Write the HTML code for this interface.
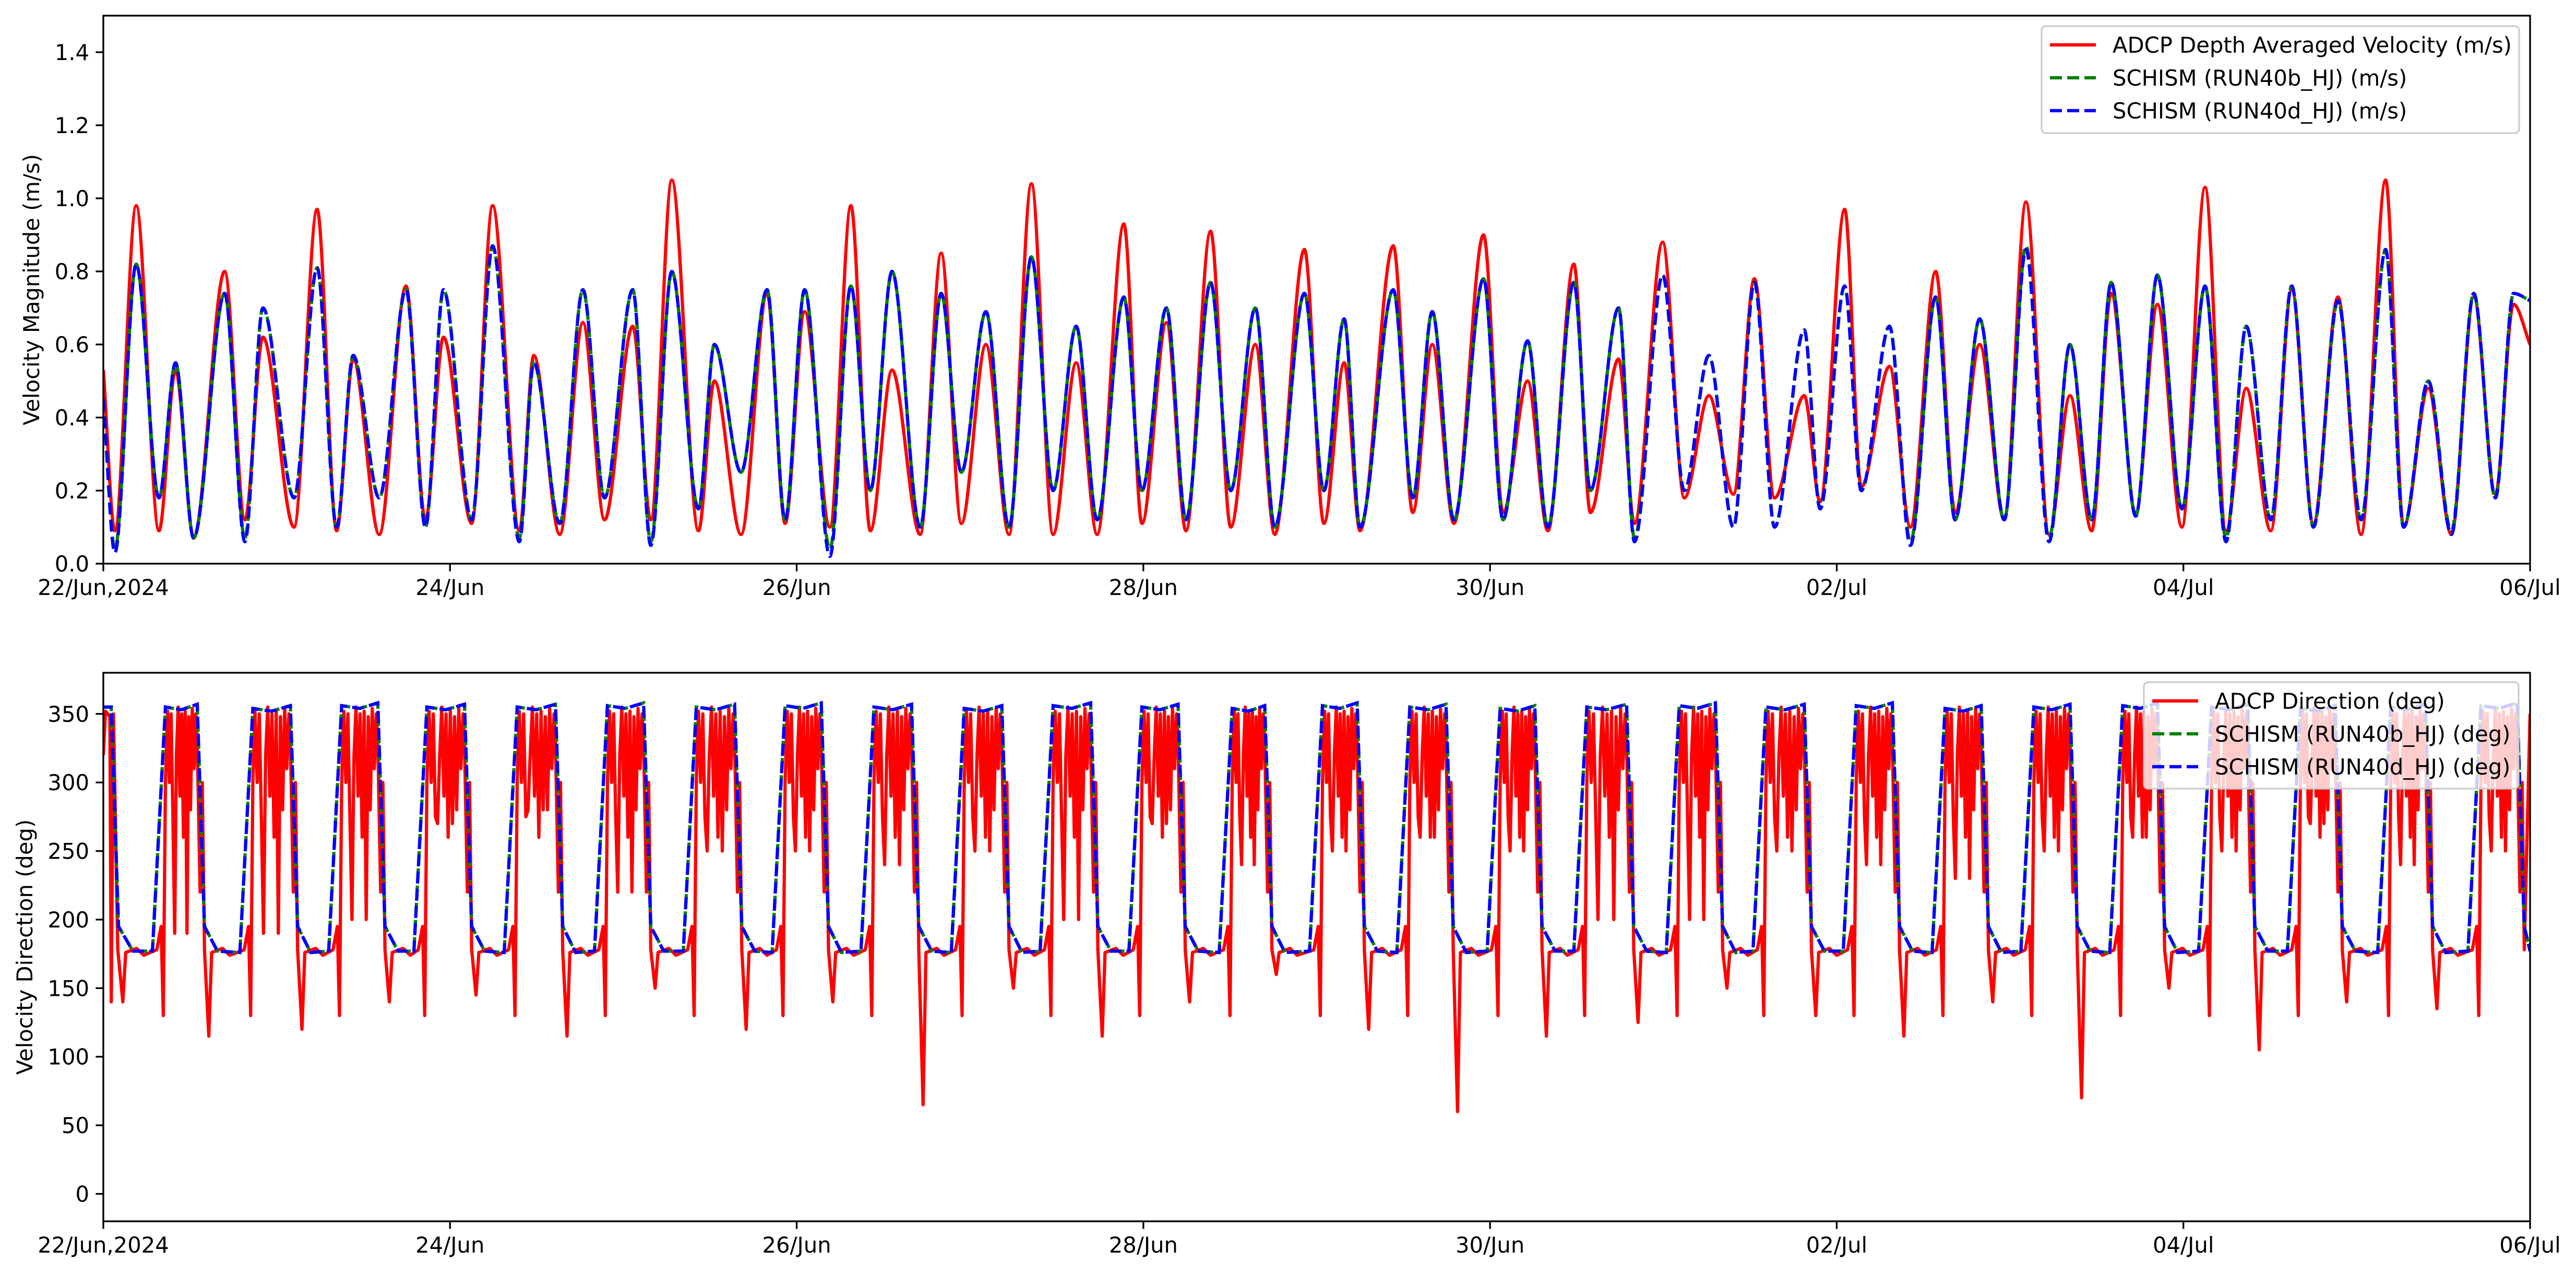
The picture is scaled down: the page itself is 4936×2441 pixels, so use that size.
<!DOCTYPE html>
<html><head><meta charset="utf-8">
<style>
html,body{margin:0;padding:0;background:#fff;}
svg{display:block;font-family:"DejaVu Sans","Liberation Sans",sans-serif;}
</style></head>
<body>
<svg id="fig" width="4936" height="2441" viewBox="0 0 4936 2441" xmlns="http://www.w3.org/2000/svg">
<rect width="4936" height="2441" fill="#fff"/>
<g id="topChart"></g>
<g id="botChart"></g>
</svg>
<script>
// ---------- DATA ----------
const xTickLabels = ["22/Jun,2024","24/Jun","26/Jun","28/Jun","30/Jun","02/Jul","04/Jul","06/Jul"];
const xTickHours = [0,48,96,144,192,240,288,336];
const magTicks = [0.0,0.2,0.4,0.6,0.8,1.0,1.2,1.4];
const dirTicks = [0,50,100,150,200,250,300,350];
const magTimes = [0,1.6,4.55,7.7,10.0,12.5,16.8,19.6,22.1,26.4,29.6,32.3,34.6,38.2,41.9,44.6,47.1,51.0,53.9,57.6,59.6,63.2,66.4,69.4,73.3,75.8,78.7,82.4,84.6,88.3,91.9,94.4,97.1,100.6,103.5,106.2,109.2,113.1,116.0,118.8,122.2,125.4,128.5,131.5,134.7,137.6,141.3,143.8,147.2,149.9,153.3,156.1,159.5,162.2,166.3,169.0,171.8,174.0,178.6,181.3,184.0,187.0,191.1,193.8,197.2,200.0,203.6,205.9,209.8,212.0,215.9,218.9,222.3,225.7,228.6,231.4,235.5,237.7,241.1,243.4,247.3,250.2,253.7,256.4,259.8,263.2,266.2,269.4,272.3,275.3,278.0,281.4,284.4,287.8,291.0,293.9,296.7,300.1,303.0,306.0,309.4,312.6,316.0,318.5,321.9,325.1,328.2,331.2,333.7,336];
const adcpMag = [0.53,0.09,0.98,0.09,0.53,0.07,0.80,0.12,0.62,0.10,0.97,0.09,0.56,0.08,0.76,0.12,0.62,0.11,0.98,0.09,0.57,0.08,0.66,0.12,0.65,0.12,1.05,0.09,0.50,0.08,0.74,0.11,0.69,0.10,0.98,0.09,0.53,0.08,0.85,0.11,0.60,0.08,1.04,0.08,0.55,0.08,0.93,0.11,0.66,0.09,0.91,0.10,0.60,0.08,0.86,0.11,0.55,0.09,0.87,0.14,0.60,0.11,0.90,0.14,0.50,0.09,0.82,0.14,0.56,0.11,0.88,0.18,0.46,0.19,0.78,0.18,0.46,0.17,0.97,0.21,0.54,0.10,0.80,0.14,0.60,0.12,0.99,0.08,0.46,0.09,0.74,0.14,0.71,0.10,1.03,0.09,0.48,0.09,0.75,0.11,0.73,0.08,1.05,0.10,0.48,0.08,0.73,0.19,0.71,0.60];
const run40bMag = [0.45,0.04,0.82,0.18,0.55,0.07,0.74,0.07,0.70,0.18,0.81,0.10,0.57,0.18,0.75,0.10,0.75,0.12,0.87,0.07,0.55,0.11,0.75,0.18,0.75,0.06,0.80,0.15,0.60,0.25,0.75,0.12,0.75,0.04,0.76,0.20,0.80,0.10,0.74,0.25,0.69,0.10,0.84,0.20,0.65,0.12,0.73,0.20,0.70,0.12,0.77,0.20,0.70,0.10,0.74,0.20,0.67,0.10,0.75,0.18,0.69,0.12,0.78,0.12,0.61,0.10,0.77,0.20,0.70,0.07,0.79,0.20,0.57,0.10,0.77,0.10,0.64,0.15,0.76,0.20,0.65,0.06,0.73,0.12,0.67,0.12,0.87,0.07,0.60,0.12,0.77,0.13,0.79,0.15,0.76,0.07,0.65,0.12,0.76,0.10,0.72,0.12,0.86,0.10,0.50,0.09,0.74,0.18,0.74,0.72];
const run40dMag = [0.45,0.03,0.82,0.18,0.55,0.07,0.74,0.06,0.70,0.18,0.81,0.10,0.57,0.18,0.75,0.10,0.75,0.12,0.87,0.06,0.55,0.11,0.75,0.18,0.75,0.05,0.80,0.15,0.60,0.25,0.75,0.12,0.75,0.02,0.76,0.20,0.80,0.10,0.74,0.25,0.69,0.10,0.84,0.20,0.65,0.12,0.73,0.20,0.70,0.12,0.77,0.20,0.70,0.10,0.74,0.20,0.67,0.10,0.75,0.18,0.69,0.12,0.78,0.12,0.61,0.10,0.77,0.20,0.70,0.06,0.79,0.20,0.57,0.10,0.77,0.10,0.64,0.15,0.76,0.20,0.65,0.05,0.73,0.12,0.67,0.12,0.86,0.06,0.60,0.12,0.77,0.13,0.79,0.15,0.76,0.06,0.65,0.12,0.76,0.10,0.72,0.12,0.86,0.10,0.50,0.08,0.74,0.18,0.74,0.72];
const riseHours = [8.6,20.7,33.0,44.8,57.3,69.8,82.1,94.4,106.7,119.2,131.5,143.8,156.3,168.8,180.9,193.4,205.4,218.2,230.2,242.7,255.0,267.3,279.6,291.9,304.2,316.7,329.2];
const fallHours = [1.1,13.0,25.9,38.0,50.0,62.6,74.8,87.4,99.4,111.9,124.4,136.7,148.8,160.8,173.6,185.9,198.2,210.9,223.2,235.5,247.7,260.0,272.3,284.4,296.9,309.0,321.5,334.2];
const modelHighDeg = [355,355,354,356,355,355,356,355,356,355,354,356,355,354,356,355,354,355,356,355,356,354,355,356,355,354,355,356];
const modelLowDeg = [177,177,176,177,177,176,177,177,176,177,176,177,177,176,177,176,177,177,176,177,177,176,177,176,177,177,176,177];
const adcpHighDip = [190,190,200,270,280,220,250,250,240,250,200,270,240,250,260,250,200,200,250,240,230,250,260,250,270,240,250,250];
const adcpLowSpike = [140,115,120,140,145,115,150,120,140,65,150,115,140,160,120,60,115,125,150,130,115,140,70,150,105,140,135,165];
const adcpPlateau = [352,300,350,275,345,320,355,290,350,260,352,330,348,280,354,310,350];

// ---------- AXES ----------
const L=198,R=4848;
const T1=30,B1=1080,T2=1289,B2=2340;
const X=h=>L+h/336*(R-L);
const Ym=v=>B1-(v/1.5)*(B1-T1);
const Yd=v=>B2-((v+20)/400)*(B2-T2);
const NS="http://www.w3.org/2000/svg";
function mk(tag,attrs,parent,txt){const e=document.createElementNS(NS,tag);for(const k in attrs)e.setAttribute(k,attrs[k]);if(txt!==undefined)e.textContent=txt;parent.appendChild(e);return e;}
const gTop=document.getElementById('topChart'), gBot=document.getElementById('botChart');

function smoothPath(pts){
  const n=pts.length; const dx=[],dy=[],m=[];
  for(let i=0;i<n-1;i++){dx.push(pts[i+1][0]-pts[i][0]);dy.push(pts[i+1][1]-pts[i][1]);m.push(dy[i]/dx[i]);}
  const t=[m[0]];for(let i=1;i<n-1;i++){t.push(m[i-1]*m[i]<=0?0:(m[i-1]+m[i])/2);}t.push(m[n-2]);
  let d=`M${pts[0][0].toFixed(1)},${pts[0][1].toFixed(1)}`;
  for(let i=0;i<n-1;i++){const h=dx[i]/3;d+=`C${(pts[i][0]+h).toFixed(1)},${(pts[i][1]+t[i]*h).toFixed(1)} ${(pts[i+1][0]-h).toFixed(1)},${(pts[i+1][1]-t[i+1]*h).toFixed(1)} ${pts[i+1][0].toFixed(1)},${pts[i+1][1].toFixed(1)}`;}
  return d;
}
function clip(id,T,B){const c=mk('clipPath',{id:id},document.getElementById('fig'));mk('rect',{x:L,y:T,width:R-L,height:B-T},c);}
clip('c1',T1,B1);clip('c2',T2,B2);

function axes(g,T,B,yt,Y,ylab,labx,namePre){
  yt.forEach(v=>{const y=Y(v);
    const tk=mk('line',{x1:L-14.6,x2:L,y1:y,y2:y,stroke:'#000','stroke-width':3.3},g);
    
    
    const lb=mk('text',{x:L-27,y:y+15,'text-anchor':'end','font-size':41.7},g,(namePre==='mag'?v.toFixed(1):String(v)));
    
    
  });
  xTickHours.forEach((h,i)=>{const x=X(h);
    const tk=mk('line',{x1:x,x2:x,y1:B,y2:B+14.6,stroke:'#000','stroke-width':3.3},g);
    
    
    const lb=mk('text',{x:x,y:B+60,'text-anchor':'middle','font-size':41.7},g,xTickLabels[i]);
    
    
  });
  const yl=mk('text',{x:0,y:0,'text-anchor':'middle','font-size':41.7,transform:`translate(${labx},${(T+B)/2}) rotate(-90)`},g,ylab);
  
  
}
function frame(g,T,B,namePre){const f=mk('rect',{x:L,y:T,width:R-L,height:B-T,fill:'none',stroke:'#000','stroke-width':3.3},g);
  
  }

// ---------- TOP ----------
axes(gTop,T1,B1,magTicks,Ym,'Velocity Magnitude (m/s)',75,'mag');
const pr=magTimes.map((h,i)=>[X(h),Ym(adcpMag[i])]);
const pg=magTimes.map((h,i)=>[X(h),Ym(run40bMag[i])]);
const pb=magTimes.map((h,i)=>[X(h),Ym(run40dMag[i])]);
const l1=mk('path',{d:smoothPath(pr),fill:'none',stroke:'#ff0000','stroke-width':6.25,'stroke-linejoin':'round','clip-path':'url(#c1)'},gTop);


const l2=mk('path',{d:smoothPath(pg),fill:'none',stroke:'#008000','stroke-width':6.25,'stroke-dasharray':'23 10','clip-path':'url(#c1)'},gTop);


const l3=mk('path',{d:smoothPath(pb),fill:'none',stroke:'#0000ff','stroke-width':6.25,'stroke-dasharray':'23 10','clip-path':'url(#c1)'},gTop);


frame(gTop,T1,B1,'mag');

// ---------- BOTTOM ----------
axes(gBot,T2,B2,dirTicks,Yd,'Velocity Direction (deg)',62,'dir');
function modelPts(){const p=[[0,modelHighDeg[0]],[fallHours[0],modelHighDeg[0]]];
  p.push([fallHours[0]+1.0,195],[fallHours[0]+3.0,modelLowDeg[0]]);
  for(let i=0;i<riseHours.length;i++){
    const r=riseHours[i],f=fallHours[i+1];
    p.push([r-1.8,modelLowDeg[i+1]],[r,modelHighDeg[i+1]],[(r+f)/2,modelHighDeg[i+1]-2],[f,modelHighDeg[i+1]+2]);
    p.push([f+1.0,195],[f+2.8,modelLowDeg[i+1]]);
  }
  p.push([336,modelLowDeg[modelLowDeg.length-1]]);
  return p.filter(q=>q[0]<=336);
}
function redPts(){const p=[[0,320],[0.3,352],[fallHours[0]-0.2,348],[fallHours[0],140],[fallHours[0]+0.3,350],[fallHours[0]+0.9,178]];
  for(let i=0;i<riseHours.length;i++){
    const r=riseHours[i],f=fallHours[i+1],prevF=fallHours[i];
    p.push([prevF+1.6,adcpLowSpike[i]],[prevF+2.0,176],[prevF+3.5,179],[prevF+4.5,174]);
    p.push([r-1.2,178],[r-0.6,195],[r-0.3,130],[r,300]);
    const n=adcpPlateau.length;
    for(let k=0;k<n;k++){let v=adcpPlateau[k];if(k===4||k===11)v=adcpHighDip[i];p.push([r+0.3+(f-r-0.5)*k/(n-1),v]);}
    p.push([f,330],[f+0.4,220],[f+0.7,300],[f+1.0,178]);
  }
  p.push([336,350]);
  return p.filter(q=>q[0]<=336).sort((a,b)=>a[0]-b[0]);
}
const toD=pts=>'M'+pts.map(q=>X(q[0]).toFixed(1)+','+Yd(q[1]).toFixed(1)).join('L');
const d1=mk('path',{d:toD(redPts()),fill:'none',stroke:'#ff0000','stroke-width':6.25,'stroke-linejoin':'round','clip-path':'url(#c2)'},gBot);


const mp=modelPts();
const d2=mk('path',{d:toD(mp),fill:'none',stroke:'#008000','stroke-width':6.25,'stroke-dasharray':'23 10','clip-path':'url(#c2)'},gBot);


const d3=mk('path',{d:toD(mp),fill:'none',stroke:'#0000ff','stroke-width':6.25,'stroke-dasharray':'23 10','stroke-dashoffset':'6','clip-path':'url(#c2)'},gBot);


frame(gBot,T2,B2,'dir');

// ---------- LEGENDS ----------
function legend(g,x0,y0,w,h,rows,namePre){
  const lg=mk('g',{},g);
  
  
  mk('rect',{x:x0,y:y0,width:w,height:h,rx:8,fill:'#fff','fill-opacity':0.8,stroke:'#cccccc','stroke-width':3.3},lg);
  rows.forEach((r,i)=>{const y=y0+36+i*63;
    const e=mk('g',{},lg);
    
    
    mk('line',{x1:x0+16,x2:x0+104,y1:y,y2:y,stroke:r[1],'stroke-width':6.25,'stroke-dasharray':r[2]?'23 10':'none'},e);
    mk('text',{x:x0+136,y:y+15,'font-size':41.7},e,r[0]);
  });
}
legend(gTop,3912,50,915,205,[["ADCP Depth Averaged Velocity (m/s)","#ff0000",false],["SCHISM (RUN40b_HJ) (m/s)","#008000",true],["SCHISM (RUN40d_HJ) (m/s)","#0000ff",true]],'mag');
legend(gBot,4108,1307,718,204,[["ADCP Direction (deg)","#ff0000",false],["SCHISM (RUN40b_HJ) (deg)","#008000",true],["SCHISM (RUN40d_HJ) (deg)","#0000ff",true]],'dir');
</script>
</body></html>
